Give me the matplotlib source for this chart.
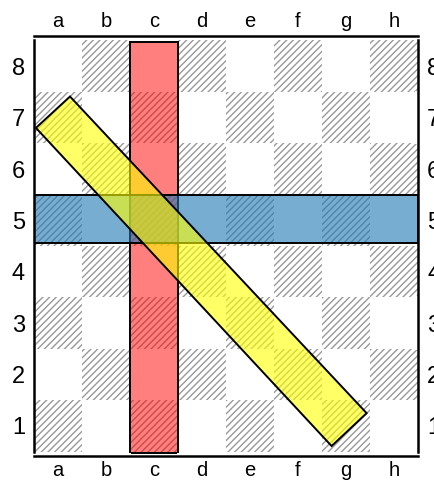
import matplotlib.pyplot as plt
from matplotlib.patches import Rectangle, Polygon

plt.rcParams['font.family'] = ['Liberation Sans', 'DejaVu Sans']

files = ['a', 'b', 'c', 'd', 'e', 'f', 'g', 'h']
ranks = ['1', '2', '3', '4', '5', '6', '7', '8']

# highlighted file c (column index) and its vertical extent
red_col = 2
red_y = (-0.02, 7.98)
# highlighted rank 5 band
blue_x = (0, 8)
blue_y = (4.07, 5.0)
# diagonal band corners (data coords)
yellow_x = [0.04, 0.75, 6.93, 6.20]
yellow_y = [6.30, 6.91, 0.75, 0.11]

fig = plt.figure(figsize=(4.35, 4.86), dpi=100)
ax = fig.add_axes([34 / 435, 1 - 451.7 / 486, 384 / 435, 411.2 / 486])

n = len(files)
for i in range(n):
    for j in range(len(ranks)):
        if (i + j) % 2 == 0:
            ax.add_patch(Rectangle((i, j), 1, 1, facecolor='white', edgecolor='0.6',
                                   hatch='/////', lw=0, zorder=0))

ax.add_patch(Rectangle((red_col, red_y[0]), 1, red_y[1] - red_y[0], facecolor='red',
                       alpha=0.5, edgecolor='none', zorder=1))
ax.add_patch(Rectangle((red_col, red_y[0]), 1, red_y[1] - red_y[0], facecolor='none',
                       edgecolor='black', lw=1.4, zorder=1.1, clip_on=False))
ax.add_patch(Rectangle((blue_x[0], blue_y[0]), blue_x[1] - blue_x[0], blue_y[1] - blue_y[0],
                       facecolor='C0', alpha=0.6, edgecolor='none', zorder=2))
ax.add_patch(Rectangle((blue_x[0], blue_y[0]), blue_x[1] - blue_x[0], blue_y[1] - blue_y[0],
                       facecolor='none', edgecolor='black', lw=1.4, zorder=2.1))
pts = list(zip(yellow_x, yellow_y))
ax.add_patch(Polygon(pts, closed=True, facecolor='yellow', alpha=0.6,
                     edgecolor='none', zorder=3))
ax.add_patch(Polygon(pts, closed=True, facecolor='none', edgecolor='black',
                     lw=1.4, zorder=3.1))

ax.set_xlim(0, n)
ax.set_ylim(0, len(ranks))

ax.set_xticks([k + 0.5 for k in range(n)])
ax.set_xticklabels(files)
ax.set_yticks([k + 0.5 for k in range(len(ranks))])
ax.set_yticklabels(ranks)
ax.set_xticks(range(1, n), minor=True)
ax.set_yticks(range(1, len(ranks)), minor=True)

ax.tick_params(axis='x', which='major', length=0, pad=3.5, labelsize=14.5,
               top=True, bottom=True, labeltop=True, labelbottom=True)
ax.tick_params(axis='y', which='major', length=0, pad=6.5, labelsize=17,
               left=True, right=True, labelleft=True, labelright=True)
ax.tick_params(which='minor', length=5, width=1.5, color='white', direction='inout',
               top=True, bottom=True, left=True, right=True)

for side in ['top', 'bottom', 'left', 'right']:
    ax.spines[side].set_linewidth(1.8)
ax.spines['top'].set_position(('outward', 3))
ax.spines['bottom'].set_position(('outward', 3))

fig.savefig('out.png', dpi=100)
